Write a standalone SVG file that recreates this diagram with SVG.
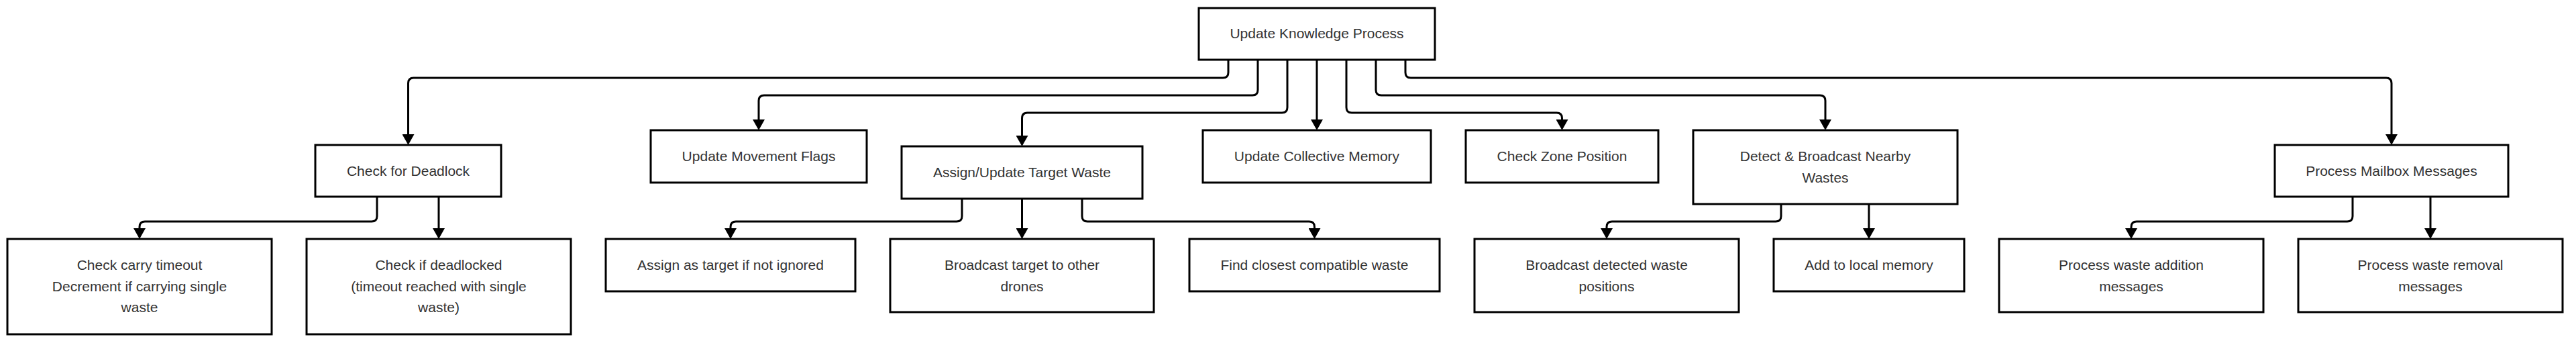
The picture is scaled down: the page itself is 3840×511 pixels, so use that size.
<svg xmlns="http://www.w3.org/2000/svg" width="3840" height="511" viewBox="0 0 3840 511">
<style>
.box{fill:#fff;stroke:#000;stroke-width:3}
.lbl{font-family:"Liberation Sans",Arial,sans-serif;font-size:21px;fill:#333;text-anchor:middle}
.edge{fill:none;stroke:#000;stroke-width:3;marker-end:url(#ah)}
</style>
<defs>
<marker id="ah" viewBox="0 0 16 18" markerWidth="16" markerHeight="18" refX="0" refY="9" orient="auto" markerUnits="userSpaceOnUse">
<path d="M0,0 L16,9 L0,18 z" fill="#000"/>
</marker>
</defs>
<rect width="3840" height="511" fill="#fff"/>
<g id="connectors">
<path class="edge" d="M1831,89 V108 Q1831,116 1823,116 H616.5 Q608.5,116 608.5,124 V200"/>
<path class="edge" d="M1875,89 V134 Q1875,142 1867,142 H1139 Q1131,142 1131,150 V178"/>
<path class="edge" d="M1919,89 V160 Q1919,168 1911,168 H1531.5 Q1523.5,168 1523.5,176 V202"/>
<path class="edge" d="M1963,89 V178"/>
<path class="edge" d="M2007,89 V160 Q2007,168 2015,168 H2320.5 Q2328.5,168 2328.5,176 V178"/>
<path class="edge" d="M2051,89 V134 Q2051,142 2059,142 H2713 Q2721,142 2721,150 V178"/>
<path class="edge" d="M2095,89 V108 Q2095,116 2103,116 H3557 Q3565,116 3565,124 V200"/>
<path class="edge" d="M562,293 V322 Q562,330 554,330 H216 Q208,330 208,338 V340"/>
<path class="edge" d="M654,293 V340"/>
<path class="edge" d="M1434,296 V322 Q1434,330 1426,330 H1097 Q1089,330 1089,338 V340"/>
<path class="edge" d="M1523.5,296 V340"/>
<path class="edge" d="M1613,296 V322 Q1613,330 1621,330 H1951.5 Q1959.5,330 1959.5,338 V340"/>
<path class="edge" d="M2655,304 V322 Q2655,330 2647,330 H2403 Q2395,330 2395,338 V340"/>
<path class="edge" d="M2786,304 V340"/>
<path class="edge" d="M3507,293 V322 Q3507,330 3499,330 H3185 Q3177,330 3177,338 V340"/>
<path class="edge" d="M3623,293 V340"/>
</g>
<g id="n-root"><rect class="box" x="1787" y="12" width="352" height="77"/><text class="lbl" x="1963" y="57">Update Knowledge Process</text></g>
<g id="n-deadlock"><rect class="box" x="470" y="216" width="277" height="77"/><text class="lbl" x="608.5" y="262">Check for Deadlock</text></g>
<g id="n-flags"><rect class="box" x="970" y="194" width="322" height="78"/><text class="lbl" x="1131" y="240">Update Movement Flags</text></g>
<g id="n-target"><rect class="box" x="1344" y="218" width="359" height="78"/><text class="lbl" x="1523.5" y="264">Assign/Update Target Waste</text></g>
<g id="n-collective"><rect class="box" x="1793" y="194" width="340" height="78"/><text class="lbl" x="1963" y="240">Update Collective Memory</text></g>
<g id="n-zone"><rect class="box" x="2185" y="194" width="287" height="78"/><text class="lbl" x="2328.5" y="240">Check Zone Position</text></g>
<g id="n-detect"><rect class="box" x="2524" y="194" width="394" height="110"/><text class="lbl" x="2721" y="240">Detect &amp; Broadcast Nearby</text><text class="lbl" x="2721" y="272">Wastes</text></g>
<g id="n-mailbox"><rect class="box" x="3391" y="216" width="348" height="77"/><text class="lbl" x="3565" y="262">Process Mailbox Messages</text></g>
<g id="n-carry"><rect class="box" x="11" y="356" width="394" height="142"/><text class="lbl" x="208" y="402">Check carry timeout</text><text class="lbl" x="208" y="434">Decrement if carrying single</text><text class="lbl" x="208" y="465">waste</text></g>
<g id="n-isdeadlocked"><rect class="box" x="457" y="356" width="394" height="142"/><text class="lbl" x="654" y="402">Check if deadlocked</text><text class="lbl" x="654" y="434">(timeout reached with single</text><text class="lbl" x="654" y="465">waste)</text></g>
<g id="n-assign"><rect class="box" x="903" y="356" width="372" height="78"/><text class="lbl" x="1089" y="402">Assign as target if not ignored</text></g>
<g id="n-bcast-target"><rect class="box" x="1327" y="356" width="393" height="109"/><text class="lbl" x="1523.5" y="402">Broadcast target to other</text><text class="lbl" x="1523.5" y="434">drones</text></g>
<g id="n-closest"><rect class="box" x="1773" y="356" width="373" height="78"/><text class="lbl" x="1959.5" y="402">Find closest compatible waste</text></g>
<g id="n-bcast-detected"><rect class="box" x="2198" y="356" width="394" height="109"/><text class="lbl" x="2395" y="402">Broadcast detected waste</text><text class="lbl" x="2395" y="434">positions</text></g>
<g id="n-local"><rect class="box" x="2644" y="356" width="284" height="78"/><text class="lbl" x="2786" y="402">Add to local memory</text></g>
<g id="n-addition"><rect class="box" x="2980" y="356" width="394" height="109"/><text class="lbl" x="3177" y="402">Process waste addition</text><text class="lbl" x="3177" y="434">messages</text></g>
<g id="n-removal"><rect class="box" x="3426" y="356" width="394" height="109"/><text class="lbl" x="3623" y="402">Process waste removal</text><text class="lbl" x="3623" y="434">messages</text></g>
</svg>
